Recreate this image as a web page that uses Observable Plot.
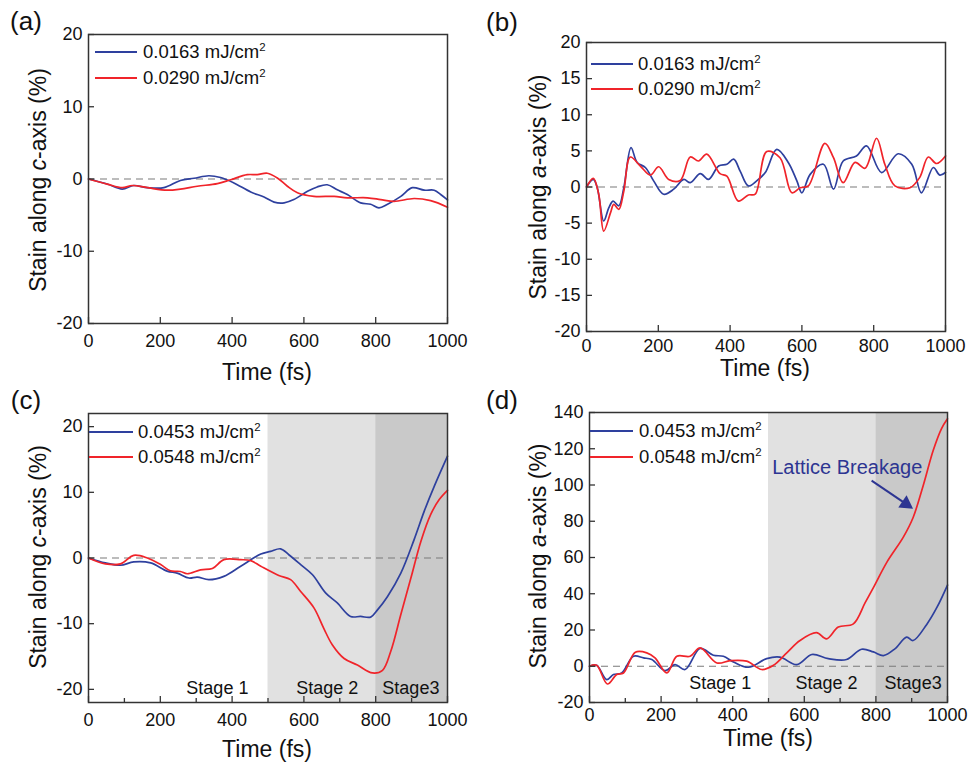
<!DOCTYPE html>
<html><head><meta charset="utf-8">
<script src="https://cdn.jsdelivr.net/npm/d3@7"></script>
<script src="https://cdn.jsdelivr.net/npm/@observablehq/plot@0.6"></script>
<style>
body{margin:0;background:#fff;}
#page{position:relative;width:968px;height:766px;overflow:hidden;font-family:"Liberation Sans",Arial,sans-serif;color:#111;background:#fff;}
.abs{position:absolute;white-space:nowrap;line-height:1;}
.c{transform:translate(-50%,-50%);}
.r{transform:translate(-50%,-50%) rotate(-90deg);}
.lt{transform:translateY(-50%);}
.plotbox{position:absolute;}
sup{font-size:0.62em;vertical-align:0.55em;line-height:0;}
</style></head><body><div id="page"></div>
<script>
// ---------- data ----------
const xTicks = [0, 200, 400, 600, 800, 1000];
const xMinorTicks = [100, 300, 500, 700, 900];
const yTicksA = [-20, -10, 0, 10, 20];
const yTicksB = [-20, -15, -10, -5, 0, 5, 10, 15, 20];
const yTicksC = [-20, -10, 0, 10, 20];
const yTicksD = [-20, 0, 20, 40, 60, 80, 100, 120, 140];

const legendA = ["0.0163 mJ/cm", "0.0290 mJ/cm"];
const legendC = ["0.0453 mJ/cm", "0.0548 mJ/cm"];

// (a) c-axis, low fluence
const tA1 = [0,52,94,126,164,210,256,294,335,368,405,452,489,517,545,572,610,637,665,693,721,758,786,809,833,870,902,935,963,981,1000];
const vA1 = [0,-0.7,-1.4,-0.9,-1.2,-1.2,-0.2,0.1,0.45,0.2,-0.55,-1.8,-2.5,-3.2,-3.3,-2.85,-1.7,-1.1,-0.8,-1.5,-2.15,-3.3,-3.5,-4.0,-3.5,-2.4,-1.2,-1.55,-1.55,-2.15,-2.9];
const tA2 = [0,52,94,122,164,219,256,303,359,396,442,470,498,526,554,582,628,684,721,777,814,851,907,953,1000];
const vA2 = [0,-0.7,-1.2,-0.9,-1.2,-1.55,-1.4,-1.0,-0.65,-0.1,0.6,0.6,0.8,0.15,-1.0,-1.9,-2.4,-2.4,-2.6,-2.6,-2.85,-3.1,-2.7,-3.0,-3.9];

// (b) a-axis, low fluence
const tB1 = [0,19,30,48,62,74,90,104,124,141,164,187,215,243,271,289,317,340,368,391,410,428,451,474,498,530,562,586,600,623,660,688,715,752,780,822,868,906,933,966,984,1000];
const vB1 = [0,1.05,-0.1,-4.7,-2.9,-1.95,-2.6,-0.1,5.45,3.4,2.7,0.85,-1.0,-0.3,1.05,0.6,1.85,1.05,2.9,3.15,3.85,2.2,0.15,0.85,2.0,5.2,3.4,0.85,-0.8,1.75,3.15,-0.3,3.6,4.3,5.7,2.0,4.6,3.15,-0.8,2.7,1.65,2.0];
const tB2 = [0,19,34,48,67,76,90,104,122,150,178,201,229,261,289,312,335,372,391,423,451,470,502,539,572,595,618,664,688,715,748,776,808,831,859,901,928,952,975,1000];
const vB2 = [0,1.2,-1.0,-6.1,-3.55,-2.4,-3.1,-0.55,4.15,2.9,1.65,2.8,1.05,0.9,4.15,3.6,4.55,1.85,1.5,-1.95,-1.1,-1.0,4.9,4.05,-0.8,-0.1,0.15,6.05,4.05,0.6,3.4,2.6,6.75,3.15,0.15,-0.1,1.3,4.15,3.25,4.3];

// (c) c-axis, high fluence
const tC1 = [0,47,89,126,173,219,247,280,303,335,377,424,480,507,535,558,591,624,661,693,730,758,786,805,833,870,907,935,963,1000];
const vC1 = [0,-0.75,-1.1,-0.6,-0.75,-2.0,-2.3,-3.05,-2.9,-3.3,-2.8,-1.25,0.6,1.0,1.4,0.5,-1.0,-2.55,-5.35,-6.85,-8.9,-8.9,-9.0,-7.9,-5.85,-2.3,2.8,7.1,10.9,15.5];
const tC2 = [0,47,89,126,164,201,228,256,275,312,345,377,424,452,480,530,563,591,628,656,679,712,749,791,819,842,870,898,926,953,977,1000];
const vC2 = [0,-0.9,-0.9,0.4,0,-1.0,-1.95,-2.05,-2.4,-1.8,-1.6,-0.25,-0.25,-0.4,-1.25,-2.65,-3.3,-5.1,-7.6,-10.8,-13.2,-15.3,-16.3,-17.5,-17.1,-14.2,-8.6,-3.05,2.55,6.6,8.9,10.3];

// (d) a-axis, high fluence
const tD1 = [0,20,48,67,90,123,151,174,211,239,267,309,346,374,402,444,495,532,579,621,667,718,760,793,821,853,886,904,942,970,1000];
const vD1 = [0,0.5,-7.4,-4.6,-3.7,5.5,4.6,3.7,-2.4,0.9,-1.8,9.8,6.1,5.5,2.4,-0.55,4.2,5.0,0.9,6.5,4.2,3.7,9.4,7.9,5.9,9.6,16.1,14.2,23.1,32.3,44.8];
const tD2 = [0,20,50,76,95,128,160,183,216,244,281,309,356,393,439,481,514,551,588,634,662,695,737,770,793,830,877,904,932,960,983,1000];
const vD2 = [0,0.5,-9.8,-4.6,-3.7,7.7,7.4,4.6,-3.7,5.5,5.5,10.1,1.8,3.1,2.8,-1.8,0.55,7.4,14.2,18.5,15.1,21.6,23.4,35.1,43.4,57.2,71.4,82.1,99.6,119,131,136.5];

// stages
const stageStart = [500, 800];
const stageEnd = [800, 1000];
const stageNames = ["Stage 1", "Stage 2", "Stage3"];
const stageXc = [359, 665, 898];
const stageXd = [365, 662, 904];
const annotText = "Lattice Breakage";
const arrowFrom = {x: 788, y: 102.4};
const arrowTo = {x: 884, y: 89.6};

// ---------- styles ----------
const BLUE = "#2e409e";
const RED = "#f0242a";
const NAVY = "#2d3592";
const FONT = "'Liberation Sans', Arial, sans-serif";
const stageFill = ["#e1e1e1", "#c9c9c9"];

const page = document.getElementById("page");
function zip(t, v) { return t.map((x, i) => ({t: x, v: v[i]})); }
function addDiv(html, cls, x, y, size, extra = "") {
  const d = document.createElement("div");
  d.className = "abs " + cls;
  d.style.cssText = `left:${x}px;top:${y}px;font-size:${size}px;${extra}`;
  d.innerHTML = html;
  page.appendChild(d);
}

function panel(o) {
  const fw = o.W - o.mL - o.mR, fh = o.H - o.mT - o.mB;
  const marks = [];
  if (o.stages) {
    stageStart.forEach((s, i) => {
      marks.push(Plot.rect([{x1: s, x2: stageEnd[i]}], {x1: "x1", x2: "x2", fill: stageFill[i]}));
    });
  }
  marks.push(Plot.ruleY([0], {stroke: "#7a7a7a", strokeWidth: 1.2, strokeDasharray: "7,5"}));
  o.series.forEach(s => marks.push(Plot.line(zip(s.t, s.v), {x: "t", y: "v", stroke: s.color, strokeWidth: 1.7, curve: "catmull-rom"})));
  if (o.stageLabels) marks.push(Plot.text(o.stageLabels, {x: "x", y: "y", text: "label", fontSize: 18, fill: "#111"}));
  if (o.extra) marks.push(...o.extra);
  marks.push(Plot.frame({stroke: "#333", strokeWidth: 1.5}));
  marks.push(Plot.tickX(xTicks, {x: d => d, insetTop: fh - 6, stroke: "#333", strokeWidth: 1.3}));
  if (o.minor) marks.push(Plot.tickX(xMinorTicks, {x: d => d, insetTop: fh - 4, stroke: "#333", strokeWidth: 1.3}));
  marks.push(Plot.tickY(o.yTicks, {y: d => d, insetRight: fw - 6, stroke: "#333", strokeWidth: 1.3}));
  marks.push(Plot.axisX(xTicks, {tickSize: 0, tickPadding: o.xPad ?? 11, fontSize: 18, label: null, tickFormat: d => String(d)}));
  marks.push(Plot.axisY(o.yTicks, {tickSize: 0, tickPadding: 6, fontSize: 18, label: null, tickFormat: d => String(d)}));
  const svg = Plot.plot({
    width: o.W, height: o.H,
    marginLeft: o.mL, marginRight: o.mR, marginTop: o.mT, marginBottom: o.mB,
    x: {domain: [0, 1000]},
    y: {domain: o.yDomain},
    style: {fontFamily: FONT, color: "#111", background: "transparent", overflow: "visible"},
    marks
  });
  const box = document.createElement("div");
  box.className = "plotbox";
  box.style.left = o.left + "px";
  box.style.top = o.top + "px";
  box.appendChild(svg);
  page.appendChild(box);
}

// (a)
panel({left: 0, top: 0, W: 484, H: 383, mL: 88, mR: 37, mT: 34, mB: 60,
  yDomain: [-20, 20], yTicks: yTicksA,
  series: [{t: tA1, v: vA1, color: BLUE}, {t: tA2, v: vA2, color: RED}]});
// (b)
panel({left: 484, top: 0, W: 484, H: 383, mL: 102, mR: 23, mT: 42, mB: 52, xPad: 8,
  yDomain: [-20, 20], yTicks: yTicksB,
  series: [{t: tB1, v: vB1, color: BLUE}, {t: tB2, v: vB2, color: RED}]});
// (c)
panel({left: 0, top: 383, W: 484, H: 383, mL: 88, mR: 37, mT: 30, mB: 64,
  yDomain: [-22, 22], yTicks: yTicksC, minor: true, stages: true,
  stageLabels: stageNames.map((l, i) => ({x: stageXc[i], y: -19.8, label: l})),
  series: [{t: tC1, v: vC1, color: BLUE}, {t: tC2, v: vC2, color: RED}]});
// (d)
panel({left: 484, top: 383, W: 484, H: 383, mL: 105, mR: 21, mT: 29, mB: 64, xPad: 6,
  yDomain: [-20, 140], yTicks: yTicksD, minor: true, stages: true,
  stageLabels: stageNames.map((l, i) => ({x: stageXd[i], y: -9.2, label: l})),
  series: [{t: tD1, v: vD1, color: BLUE}, {t: tD2, v: vD2, color: RED}],
  extra: [
    Plot.text([{x: 720, y: 109.4, label: annotText}], {x: "x", y: "y", text: "label", fontSize: 20, fill: NAVY}),
    Plot.link([{x1: arrowFrom.x, y1: arrowFrom.y, x2: arrowTo.x, y2: arrowTo.y}], {x1: "x1", y1: "y1", x2: "x2", y2: "y2", stroke: NAVY, strokeWidth: 2}),
    Plot.dot([arrowTo], {x: "x", y: "y", symbol: "triangle", r: 5.5, fill: NAVY, stroke: "none", rotate: 124})
  ]});

// panel letters
addDiv("(a)", "c", 26, 21, 26);
addDiv("(b)", "c", 502, 22, 26);
addDiv("(c)", "c", 26, 400, 26);
addDiv("(d)", "c", 502, 400, 26);
// axis titles
addDiv("Stain along <i>c</i>-axis (%)", "r", 38, 180, 23);
addDiv("Stain along <i>a</i>-axis (%)", "r", 538, 187, 23);
addDiv("Stain along <i>c</i>-axis (%)", "r", 38, 557, 23);
addDiv("Stain along <i>a</i>-axis (%)", "r", 538, 556, 23);
addDiv("Time (fs)", "c", 267, 372, 23);
addDiv("Time (fs)", "c", 765, 368, 23);
addDiv("Time (fs)", "c", 267, 749, 23);
addDiv("Time (fs)", "c", 768, 738, 23);
// legends
function legend(x0, x1, xt, ys, labels) {
  [BLUE, RED].forEach((c, i) => {
    addDiv("", "", x0, ys[i] - 1, 1, `width:${x1 - x0}px;height:0;border-top:2px solid ${c};`);
    addDiv(labels[i] + "<sup>2</sup>", "lt", xt, ys[i], 18.5);
  });
}
legend(95, 137, 143, [51.5, 78], legendA);
legend(591, 633, 638, [63.5, 88.5], legendA);
legend(89, 133, 138, [432, 457], legendC);
legend(590, 633, 639, [431, 457], legendC);
</script>
</body></html>
